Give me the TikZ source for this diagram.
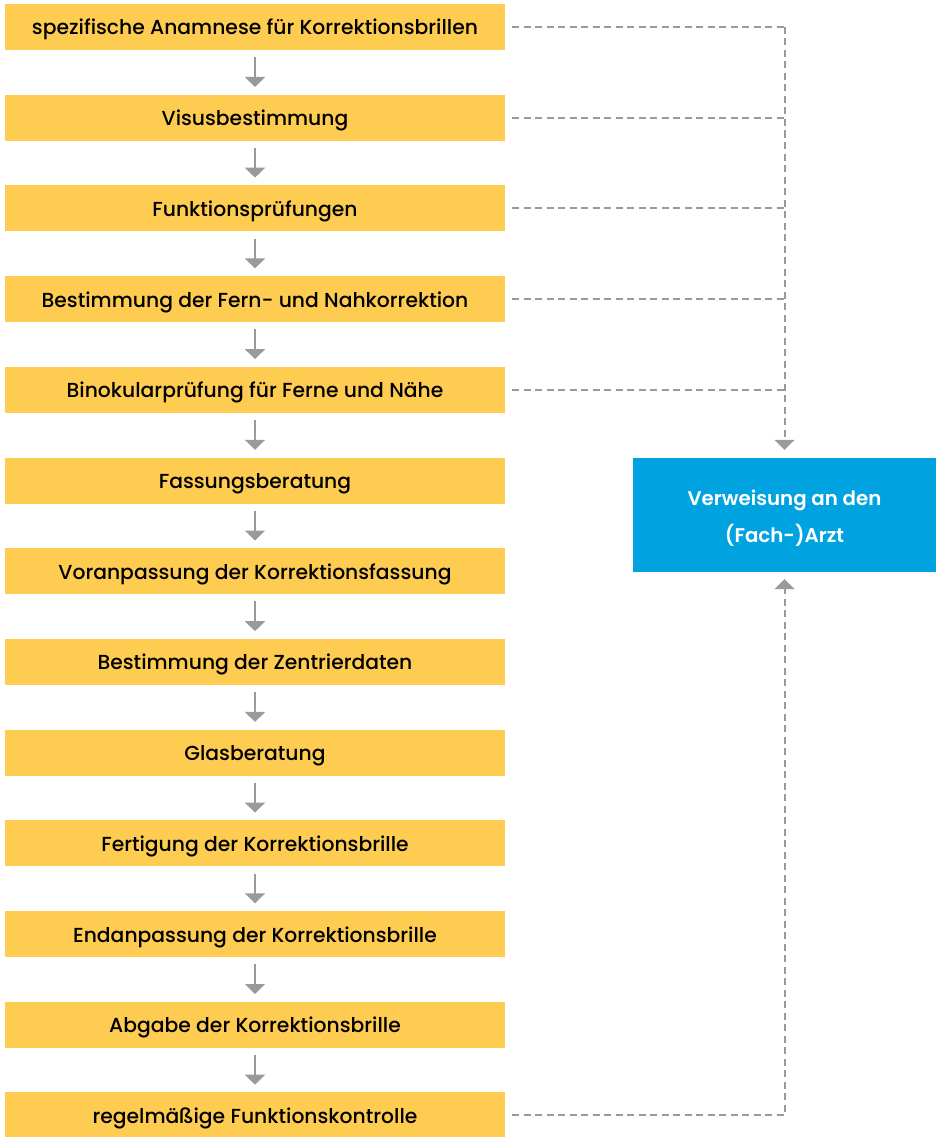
\documentclass[tikz,border=0pt]{standalone}
\usepackage{fontspec}
\setmainfont{Poppins}[UprightFont={* Medium},BoldFont={* SemiBold}]
\usetikzlibrary{arrows.meta}
\definecolor{boxyellow}{HTML}{FDCC51}
\definecolor{refblue}{HTML}{00A3E0}
\definecolor{linegray}{HTML}{9A9A9A}
\begin{document}
\begin{tikzpicture}[x=1pt,y=-1pt,
  stepbox/.style={fill=boxyellow,minimum width=500pt,minimum height=46pt,inner sep=0pt,
    text height=17pt,text depth=1pt,
    font=\fontsize{20.3}{24}\selectfont,text=black},
  refbox/.style={fill=refblue,minimum width=303pt,minimum height=114pt,inner sep=0pt,
    text height=58pt,text depth=4pt,
    font=\fontsize{19.8}{37}\selectfont\bfseries,text=white,align=center},
  flowarrow/.style={draw=linegray,line width=2pt,-{Triangle[length=10pt,width=20pt]}},
  dashline/.style={draw=linegray,line width=2pt,dash pattern=on 7pt off 4.5pt},
]
\useasboundingbox (0,0) rectangle (941,1137);
\foreach \i/\t in {0/spezifische Anamnese für Korrektionsbrillen,
  1/Visusbestimmung,
  2/Funktionsprüfungen,
  3/Bestimmung der Fern- und Nahkorrektion,
  4/Binokularprüfung für Ferne und Nähe,
  5/Fassungsberatung,
  6/Voranpassung der Korrektionsfassung,
  7/Bestimmung der Zentrierdaten,
  8/Glasberatung,
  9/Fertigung der Korrektionsbrille,
  10/Endanpassung der Korrektionsbrille,
  11/Abgabe der Korrektionsbrille,
  12/regelmäßige Funktionskontrolle}
{\node[stepbox] (b\i) at (255,{27+90.7*\i}) {\t};}
\node[refbox] (ref) at (784.5,515) {Verweisung an den\\(Fach-)Arzt};
\foreach \i [evaluate=\i as \j using int(\i+1)] in {0,...,11}
  {\draw[flowarrow] ([yshift=-7pt]b\i.south) -- ([yshift=7.5pt]b\j.north);}
\foreach \i in {0,...,4}
  {\draw[dashline] ([xshift=7pt]b\i.east) -- (b\i.east -| ref.north);}
\draw[dashline] (b0.east -| ref.north) -- ([yshift=14pt]ref.north);
\draw[draw=linegray,line width=2pt,-{Triangle[length=10pt,width=20pt]}] ([yshift=15pt]ref.north) -- ([yshift=8pt]ref.north);
\draw[dashline] ([xshift=7pt]b12.east) -- (b12.east -| ref.south) -- ([yshift=-14pt]ref.south);
\draw[draw=linegray,line width=2pt,-{Triangle[length=10pt,width=20pt]}] ([yshift=-15pt]ref.south) -- ([yshift=-7pt]ref.south);
\end{tikzpicture}
\end{document}
